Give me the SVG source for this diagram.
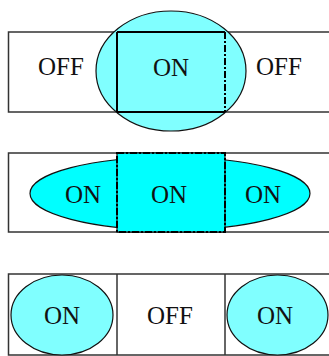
<svg xmlns="http://www.w3.org/2000/svg" width="329" height="356" viewBox="0 0 329 356">
<style>
.frame{fill:#fff;stroke:#333;stroke-width:1.5}
.light{fill:#80ffff;stroke:#111;stroke-width:1.2}
.bright{fill:#00ffff;stroke:#111;stroke-width:1.2}
.solid{fill:none;stroke:#000;stroke-width:2}
.dd{fill:none;stroke:#000;stroke-width:2;stroke-dasharray:7,2,2,2}
.t{font-family:"Liberation Serif","Times New Roman",serif;font-size:25px;fill:#111;text-anchor:middle}
</style>
<rect width="329" height="356" fill="#fff"/>
<g id="row1">
  <rect class="frame" x="8.5" y="32" width="330" height="80"/>
  <ellipse class="light" cx="171" cy="71" rx="75" ry="60"/>
  <path class="solid" d="M117,32 H225 M117,32 V112 M117,112 H225"/>
  <line class="dd" x1="225" y1="32" x2="225" y2="112"/>
  <text class="t" x="61" y="75">OFF</text>
  <text class="t" x="171" y="76">ON</text>
  <text class="t" x="279" y="75">OFF</text>
</g>
<g id="row2">
  <rect class="frame" x="8.5" y="153" width="330" height="79"/>
  <ellipse class="bright" cx="170" cy="193.5" rx="140" ry="36.5"/>
  <rect class="bright" x="117" y="153" width="108" height="79" stroke="none"/>
  <rect class="dd" x="117" y="153" width="108" height="79"/>
  <text class="t" x="83" y="203">ON</text>
  <text class="t" x="169" y="203">ON</text>
  <text class="t" x="263" y="203">ON</text>
</g>
<g id="row3">
  <rect class="frame" x="8.5" y="274" width="330" height="81"/>
  <line class="frame" x1="117" y1="274" x2="117" y2="355"/>
  <line class="frame" x1="225" y1="274" x2="225" y2="355"/>
  <ellipse class="light" cx="62" cy="315" rx="51" ry="40"/>
  <ellipse class="light" cx="277.5" cy="315" rx="50.5" ry="40"/>
  <text class="t" x="62" y="324">ON</text>
  <text class="t" x="170" y="324">OFF</text>
  <text class="t" x="275" y="324">ON</text>
</g>
</svg>
